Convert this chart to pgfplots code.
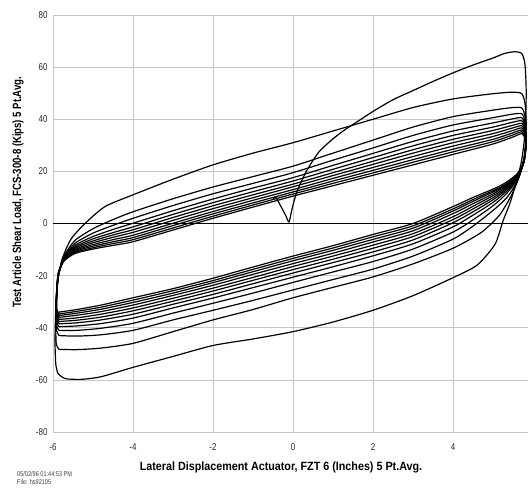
\documentclass[border=0pt]{standalone}
\usepackage{fontspec}
\setmainfont{Liberation Sans}[FakeStretch=0.8]
\newfontfamily\xlabfont{Liberation Sans}[FakeStretch=0.9]
\usepackage{pgfplots}
\pgfplotsset{compat=1.18}
\begin{document}
\begin{tikzpicture}
\useasboundingbox (-53bp,-56bp) rectangle (475bp,432bp);
\begin{axis}[
  scale only axis, width=475bp, height=417bp,
  at={(0,0)}, anchor=south west,
  xmin=-6, xmax=5.875, ymin=-80, ymax=80,
  xtick={-6,-4,-2,0,2,4}, ytick={-80,-60,-40,-20,0,20,40,60,80},
  grid=major, major grid style={black!22, line width=0.7pt},
  axis line style={draw=none},
  major tick length=0pt,
  /pgf/number format/assume math mode=true,
  tick label style={font=\fontsize{10}{10}\selectfont, text=black!85},
  yticklabel style={xshift=-2bp},
  xticklabel style={yshift=-8bp},
  xlabel={Lateral Displacement Actuator, FZT 6 (Inches) 5 Pt.Avg.},
  ylabel={Test Article Shear Load, FCS-300-8 (Kips) 5 Pt.Avg.},
  xlabel style={font=\xlabfont\bfseries\fontsize{12}{12}\selectfont, at={(axis description cs:0.48,-0.0839)}, anchor=center},
  ylabel style={font=\bfseries\fontsize{12}{12}\selectfont, at={(axis description cs:-0.0737,0.575)}, anchor=center},
  hyst/.style={black, solid, line width=1.2pt, smooth, tension=0.4, mark=none},
]
\addplot[black, line width=1.9pt, sharp plot, mark=none] coordinates {(-6,0) (5.875,0)};
% initial loading + L1
\addplot[hyst] coordinates {(-0.5,9.5) (-0.43,10) (-0.3,6.5) (-0.18,3) (-0.1,0.6) (-0.02,5.9) (0.1,12.3) (0.35,20.5) (0.65,27.5) (1,32.5) (1.3,36) (1.65,39.5) (2,43) (2.5,47.5) (3,51) (3.5,54.5) (4,57.8) (4.5,60.8) (5,63.5) (5.3,65.3) (5.55,65.9) (5.72,65.2) (5.8,61) (5.83,50) (5.8,35) (5.7,23) (5.45,9) (5.25,1) (5.05,-8) (4.6,-16) (4,-20.8) (3,-27.7) (2,-33.3) (1,-37.8) (0,-41.5) (-1,-44.3) (-2,-46.8) (-3,-51) (-4,-55.2) (-4.8,-58.8) (-5.3,-59.8) (-5.7,-59.5) (-5.88,-57.5)};
% U2 + L2
\addplot[hyst] coordinates {(-5.88,-57.5) (-5.93,-54) (-5.95,-45) (-5.93,-33) (-5.89,-23) (-5.78,-14) (-5.55,-6) (-5.2,0) (-4.7,6.5) (-4,11) (-3,17) (-2,22.5) (-1,27) (0,31) (1,35.5) (2,40) (3,44.5) (4,47.8) (5,49.8) (5.5,50.4) (5.72,49.8) (5.8,46) (5.83,38) (5.8,28) (5.68,19) (5.45,10.5) (5.15,3) (4.7,-3.5) (4,-9.5) (3,-15.5) (2,-20.5) (1,-24.5) (0,-28.5) (-1,-33) (-2,-37) (-3,-41.5) (-4,-46) (-4.8,-47.8) (-5.4,-48.4) (-5.85,-48.3)};
% C3
\addplot[hyst] coordinates {(-5.85,-48.3) (-5.92,-46) (-5.93,-37) (-5.91,-27) (-5.86,-20) (-5.72,-12.5) (-5.45,-6.5) (-5,-2) (-4.5,1.5) (-4,4.5) (-3,9.5) (-2,14) (-1,18) (0,22) (1,27) (2,32) (3,37) (4,41) (5,43.5) (5.5,44.5) (5.72,44.3) (5.8,41) (5.83,33) (5.78,24) (5.6,16) (5.35,10) (5,5) (4.5,-1) (4,-6) (3,-12.5) (2,-17.5) (1,-21.5) (0,-25.5) (-1,-29.5) (-2,-33.3) (-3,-37) (-4,-41) (-4.8,-42.7) (-5.4,-43.2) (-5.85,-43)};
% C4
\addplot[hyst] coordinates {(-5.85,-43) (-5.91,-41) (-5.92,-35.2) (-5.9,-26.2) (-5.86,-19.7) (-5.72,-12.9) (-5.45,-7.6) (-5,-3.7) (-4.5,-0.7) (-4,2.0) (-3,6.9) (-2,11.4) (-1,15.4) (0,19.5) (1,24.3) (2,29.0) (3,33.8) (4,37.8) (5,40.6) (5.5,42.0) (5.72,42.1) (5.8,39.1) (5.82,32.0) (5.77,23.9) (5.6,16.7) (5.32,11.2) (5,6.8) (4.5,1.4) (4,-3.3) (3,-9.8) (2,-14.6) (1,-18.6) (0,-22.6) (-1,-26.7) (-2,-30.6) (-3,-34.4) (-4,-38.3) (-4.8,-40.2) (-5.4,-41.0) (-5.85,-41.0)};
% C5
\addplot[hyst] coordinates {(-5.85,-41) (-5.91,-39.2) (-5.92,-34.0) (-5.9,-25.7) (-5.86,-19.4) (-5.72,-13.2) (-5.45,-8.4) (-5,-5.0) (-4.5,-2.3) (-4,0.1) (-3,4.9) (-2,9.4) (-1,13.6) (0,17.6) (1,22.3) (2,26.9) (3,31.5) (4,35.5) (5,38.6) (5.5,40.2) (5.72,40.6) (5.8,37.8) (5.82,31.3) (5.77,23.8) (5.6,17.1) (5.32,12.1) (5,8.1) (4.5,3.2) (4,-1.3) (3,-7.8) (2,-12.4) (1,-16.6) (0,-20.6) (-1,-24.6) (-2,-28.6) (-3,-32.4) (-4,-36.3) (-4.8,-38.4) (-5.4,-39.3) (-5.85,-39.6)};
% C6
\addplot[hyst] coordinates {(-5.85,-39.6) (-5.91,-37.8) (-5.92,-33) (-5.9,-25.3) (-5.86,-19.3) (-5.72,-13.4) (-5.45,-9) (-5,-5.9) (-4.5,-3.5) (-4,-1.3) (-3,3.5) (-2,8) (-1,12.2) (0,16.3) (1,20.8) (2,25.3) (3,29.8) (4,33.8) (5,37) (5.5,38.9) (5.72,39.4) (5.8,36.8) (5.82,30.8) (5.77,23.8) (5.6,17.5) (5.32,12.8) (5,9.1) (4.5,4.5) (4,0.3) (3,-6.3) (2,-10.9) (1,-15) (0,-19) (-1,-23.1) (-2,-27.2) (-3,-31) (-4,-34.8) (-4.8,-37) (-5.4,-38.1) (-5.85,-38.5)};
% C7
\addplot[hyst] coordinates {(-5.85,-38.5) (-5.91,-36.8) (-5.92,-32.2) (-5.9,-24.9) (-5.86,-19.1) (-5.72,-13.6) (-5.45,-9.5) (-5,-6.7) (-4.5,-4.4) (-4,-2.4) (-3,2.3) (-2,6.8) (-1,11) (0,15.1) (1,19.5) (2,23.9) (3,28.3) (4,32.3) (5,35.7) (5.5,37.7) (5.72,38.4) (5.8,35.9) (5.82,30.3) (5.77,23.7) (5.6,17.8) (5.32,13.3) (5,9.9) (4.5,5.6) (4,1.5) (3,-5) (2,-9.5) (1,-13.7) (0,-17.7) (-1,-21.8) (-2,-25.9) (-3,-29.8) (-4,-33.5) (-4.8,-35.9) (-5.4,-37.1) (-5.85,-37.6)};
% C8
\addplot[hyst] coordinates {(-5.85,-37.6) (-5.91,-35.8) (-5.92,-31.5) (-5.9,-24.6) (-5.86,-19) (-5.72,-13.7) (-5.45,-10) (-5,-7.4) (-4.5,-5.3) (-4,-3.4) (-3,1.2) (-2,5.7) (-1,9.9) (0,14.1) (1,18.4) (2,22.7) (3,27) (4,31) (5,34.5) (5.5,36.7) (5.72,37.5) (5.8,35.1) (5.82,29.9) (5.77,23.7) (5.6,18.1) (5.32,13.8) (5,10.7) (4.5,6.6) (4,2.6) (3,-3.9) (2,-8.3) (1,-12.5) (0,-16.5) (-1,-20.7) (-2,-24.8) (-3,-28.7) (-4,-32.4) (-4.8,-34.8) (-5.4,-36.2) (-5.85,-36.8)};
% C9
\addplot[hyst] coordinates {(-5.85,-36.8) (-5.91,-35) (-5.92,-30.8) (-5.9,-24.3) (-5.86,-18.8) (-5.72,-13.9) (-5.45,-10.4) (-5,-8.1) (-4.5,-6.2) (-4,-4.5) (-3,0.1) (-2,4.6) (-1,8.9) (0,13) (1,17.3) (2,21.5) (3,25.7) (4,29.7) (5,33.4) (5.5,35.7) (5.72,36.7) (5.8,34.4) (5.82,29.5) (5.77,23.6) (5.6,18.3) (5.32,14.3) (5,11.4) (4.5,7.6) (4,3.8) (3,-2.8) (2,-7.1) (1,-11.4) (0,-15.4) (-1,-19.5) (-2,-23.7) (-3,-27.6) (-4,-31.3) (-4.8,-33.8) (-5.4,-35.2) (-5.85,-36)};
% C10
\addplot[hyst] coordinates {(-5.85,-36) (-5.91,-34.3) (-5.92,-30.1) (-5.9,-24) (-5.86,-18.7) (-5.72,-14) (-5.45,-10.8) (-5,-8.7) (-4.5,-7) (-4,-5.4) (-3,-0.8) (-2,3.7) (-1,7.9) (0,12.1) (1,16.3) (2,20.4) (3,24.5) (4,28.5) (5,32.3) (5.5,34.8) (5.72,35.9) (5.8,33.7) (5.82,29.1) (5.77,23.6) (5.6,18.6) (5.32,14.7) (5,12.1) (4.5,8.5) (4,4.8) (3,-1.8) (2,-6.1) (1,-10.3) (0,-14.3) (-1,-18.5) (-2,-22.7) (-3,-26.7) (-4,-30.3) (-4.8,-32.9) (-5.4,-34.4) (-5.85,-35.3)};
% C11
\addplot[hyst] coordinates {(-5.85,-35.3) (-5.91,-33.6) (-5.92,-29.6) (-5.9,-23.7) (-5.86,-18.6) (-5.72,-14.2) (-5.45,-11.2) (-5,-9.3) (-4.5,-7.7) (-4,-6.2) (-3,-1.7) (-2,2.8) (-1,7.1) (0,11.3) (1,15.4) (2,19.4) (3,23.5) (4,27.5) (5,31.4) (5.5,34) (5.72,35.2) (5.8,33.1) (5.82,28.8) (5.77,23.5) (5.6,18.8) (5.32,15.1) (5,12.6) (4.5,9.2) (4,5.6) (3,-0.9) (2,-5.1) (1,-9.4) (0,-13.4) (-1,-17.6) (-2,-21.9) (-3,-25.8) (-4,-29.4) (-4.8,-32.1) (-5.4,-33.7) (-5.85,-34.7)};
% C12
\addplot[hyst] coordinates {(-5.85,-34.7) (-5.9,-33) (-5.91,-29) (-5.9,-23.5) (-5.86,-18.5) (-5.72,-14.3) (-5.45,-11.5) (-5,-9.8) (-4.5,-8.4) (-4,-7) (-3,-2.5) (-2,2) (-1,6.3) (0,10.5) (1,14.5) (2,18.5) (3,22.5) (4,26.5) (5,30.5) (5.5,33.2) (5.72,34.5) (5.8,32.5) (5.82,28.5) (5.77,23.5) (5.6,19) (5.3,15.5) (5,13.2) (4.5,10) (4,6.5) (3,0) (2,-4.2) (1,-8.5) (0,-12.5) (-1,-16.7) (-2,-21) (-3,-25) (-4,-28.5) (-4.8,-31.3) (-5.4,-33) (-5.85,-34)};
\end{axis}
\node[anchor=north west, inner sep=0pt, align=left, text=black!75, font=\fontsize{7}{8.5}\selectfont] at (-36bp,-39bp) {05/02/96 01:44:53 PM\\File: hs92105};
\end{tikzpicture}
\end{document}
